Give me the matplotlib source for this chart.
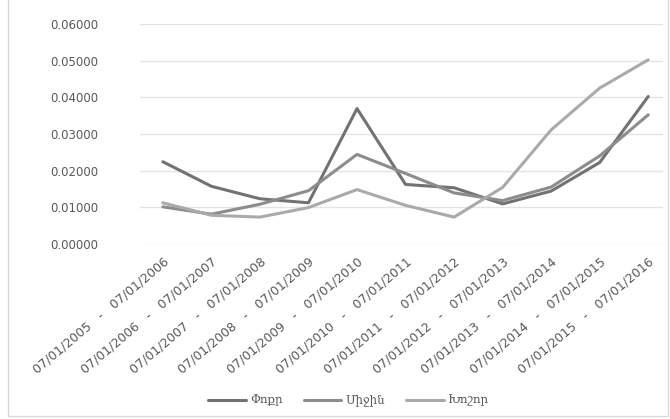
from matplotlib import pyplot as plt
from matplotlib.patches import Rectangle

# data
periods = ['07/01/2005   -   07/01/2006', '07/01/2006   -   07/01/2007',
           '07/01/2007   -   07/01/2008', '07/01/2008   -   07/01/2009',
           '07/01/2009   -   07/01/2010', '07/01/2010   -   07/01/2011',
           '07/01/2011   -   07/01/2012', '07/01/2012   -   07/01/2013',
           '07/01/2013   -   07/01/2014', '07/01/2014   -   07/01/2015',
           '07/01/2015   -   07/01/2016']
small = [0.0224, 0.0157, 0.0123, 0.0112, 0.0369, 0.0162, 0.0153, 0.0109, 0.0144, 0.0222, 0.0402]
medium = [0.0101, 0.0081, 0.0108, 0.0145, 0.0244, 0.0192, 0.0139, 0.0118, 0.0155, 0.0240, 0.0352]
large = [0.0112, 0.0078, 0.0073, 0.0099, 0.0148, 0.0105, 0.0073, 0.0154, 0.0311, 0.0425, 0.0502]
names = ['Փոքր', 'Միջին', 'Խոշոր']
colors = ['#727272', '#8c8c8c', '#aaaaaa']
yticks = [0.0, 0.01, 0.02, 0.03, 0.04, 0.05, 0.06]

fig = plt.figure(figsize=(6.7, 4.19), dpi=100)
ax = fig.add_axes([0.209, 0.418, 0.781, 0.525])

x = list(range(len(periods)))
for vals, name, c in zip([small, medium, large], names, colors):
    ax.plot(x, vals, color=c, lw=2.2, label=name, solid_capstyle='round')

ax.set_ylim(0, 0.06)
ax.set_xlim(-0.47, 10.31)
ax.set_yticks(yticks)
ax.set_yticklabels(['%.5f' % v for v in yticks], fontsize=8.5, color='#595959')
ax.set_xticks(x)
ax.set_xticklabels(periods, rotation=40, ha='right', rotation_mode='anchor',
                   fontsize=9.0, color='#595959')
ax.tick_params(axis='y', length=0, pad=30)
ax.tick_params(axis='x', length=0, pad=8)
ax.grid(axis='y', color='#e4e4e4', lw=1)
for s in ax.spines.values():
    s.set_visible(False)

leg = fig.legend(loc='center', bbox_to_anchor=(0.52, 0.045), ncol=3, frameon=False,
                 handlelength=3.2, columnspacing=1.8, handletextpad=0.3,
                 prop={'family': 'DejaVu Serif', 'size': 8.5})
for t in leg.get_texts():
    t.set_color('#595959')

# light frame round the chart
fig.patches.append(Rectangle((0.012, 0.008), 0.985, 1.1, transform=fig.transFigure,
                             fill=False, edgecolor='#d9d9d9', lw=1))

fig.savefig('out.png', dpi=100)
